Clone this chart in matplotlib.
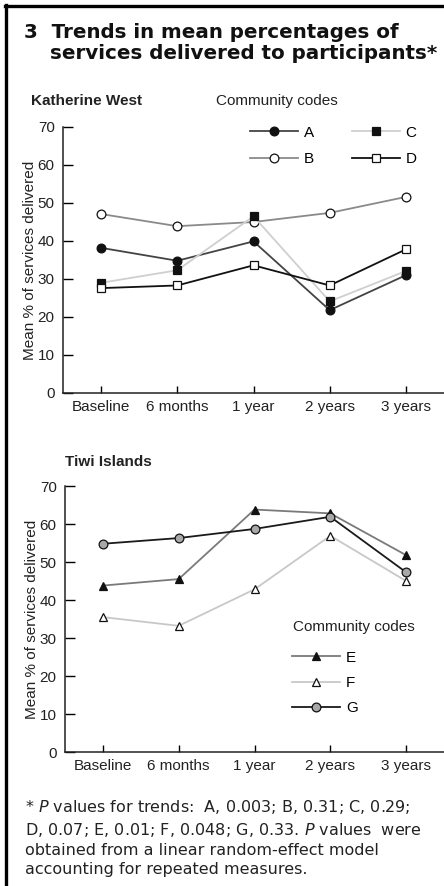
import matplotlib
matplotlib.use("Agg")
import matplotlib.pyplot as plt
from matplotlib.lines import Line2D

#### Data ####
timepoints = ["Baseline", "6 months", "1 year", "2 years", "3 years"]
yticks = [0, 10, 20, 30, 40, 50, 60, 70]

# Katherine West
kw_A = [38.2, 34.8, 39.9, 21.8, 31.0]
kw_B = [47.1, 43.9, 45.0, 47.4, 51.6]
kw_C = [29.0, 32.3, 46.5, 24.1, 32.1]
kw_D = [27.6, 28.3, 33.6, 28.3, 37.8]

# Tiwi Islands
tw_E = [43.8, 45.5, 63.8, 62.8, 51.8]
tw_F = [35.5, 33.2, 42.8, 56.9, 45.0]
tw_G = [54.8, 56.3, 58.7, 61.9, 47.3]

W, H = 444, 886
fig = plt.figure(figsize=(W / 100, H / 100), dpi=100)
fig.patch.set_facecolor("white")

lab_font = "Liberation Sans"
x = list(range(len(timepoints)))


def px(l, t, r, b):
    # pixel box -> figure fraction rect
    return [l / W, 1 - b / H, (r - l) / W, (b - t) / H]


def style_axes(ax):
    ax.set_xlim(-0.5, 4.5)
    ax.set_ylim(0, 70)
    ax.set_xticks(x)
    ax.set_xticklabels(timepoints, family=lab_font, fontsize=11, color="#222")
    ax.set_yticks(yticks)
    ax.set_yticklabels([str(v) for v in yticks], family=lab_font, fontsize=11, color="#222")
    ax.tick_params(axis="x", direction="in", length=5, width=1, pad=5)
    ax.tick_params(axis="y", direction="in", length=7, width=1, pad=6)
    for s in ["top", "right"]:
        ax.spines[s].set_visible(False)
    for s in ["left", "bottom"]:
        ax.spines[s].set_linewidth(1.1)
        ax.spines[s].set_color("#222")
    ax.set_ylabel("Mean % of services delivered", family=lab_font, fontsize=11,
                  color="#222")
    ax.yaxis.set_label_coords(-0.068, 0.5)
    ax.patch.set_alpha(0)


mk = dict(markersize=6.3, markeredgewidth=0.9, markeredgecolor="#111", linewidth=1.3)

#### Katherine West ####
ax1 = fig.add_axes(px(63, 127, 444, 393))
hA, = ax1.plot(x, kw_A, color="#444", marker="o", markerfacecolor="#111", label="A", **mk)
hB, = ax1.plot(x, kw_B, color="#8a8a8a", marker="o", markerfacecolor="white", label="B", **mk)
hC, = ax1.plot(x, kw_C, color="#cfcfcf", marker="s", markerfacecolor="#111", label="C", **mk)
hD, = ax1.plot(x, kw_D, color="#111", marker="s", markerfacecolor="white", label="D", **mk)
style_axes(ax1)
ax1.legend(handles=[hA, hB, hC, hD], ncol=2, frameon=False,
           prop={"family": lab_font, "size": 11},
           handlelength=3.1, handletextpad=0.4, columnspacing=2.5,
           labelspacing=0.8, loc="upper left",
           bbox_to_anchor=((250 - 63) / 381 - 0.035, (393 - 112) / 266))

#### Tiwi Islands ####
ax2 = fig.add_axes(px(65, 486, 444, 752))
hE, = ax2.plot(x, tw_E, color="#7a7a7a", marker="^", markerfacecolor="#111", label="E", **mk)
hF, = ax2.plot(x, tw_F, color="#c8c8c8", marker="^", markerfacecolor="white", label="F", **mk)
hG, = ax2.plot(x, tw_G, color="#1a1a1a", marker="o", markerfacecolor="#a8a8a8", label="G", **mk)
style_axes(ax2)
ax2.legend(handles=[hE, hF, hG], ncol=1, frameon=False,
           prop={"family": lab_font, "size": 11},
           handlelength=3.1, handletextpad=0.4, labelspacing=0.74,
           loc="upper left",
           bbox_to_anchor=((292 - 65) / 379 - 0.035, (752 - 637) / 266))

#### Titles and texts ####
fig.text(24 / W, 1 - 38 / H, "3  Trends in mean percentages of", family="DejaVu Sans",
         fontweight="bold", fontsize=14.3, color="#111", va="baseline", ha="left")
fig.text(50 / W, 1 - 59 / H, "services delivered to participants*", family="DejaVu Sans",
         fontweight="bold", fontsize=14.3, color="#111", va="baseline", ha="left")

fig.text(31 / W, 1 - 101 / H, "Katherine West", family=lab_font, fontweight="bold",
         fontsize=11, color="#222", va="center", ha="left")
fig.text(216 / W, 1 - 101 / H, "Community codes", family=lab_font,
         fontsize=11, color="#222", va="center", ha="left")
fig.text(65 / W, 1 - 462 / H, "Tiwi Islands", family=lab_font, fontweight="bold",
         fontsize=11, color="#222", va="center", ha="left")
fig.text(293 / W, 1 - 627 / H, "Community codes", family=lab_font,
         fontsize=11, color="#222", va="center", ha="left")

note = ("* $\\it{P}$ values for trends:  A, 0.003; B, 0.31; C, 0.29;\n"
        "D, 0.07; E, 0.01; F, 0.048; G, 0.33. $\\it{P}$ values  were\n"
        "obtained from a linear random-effect model\n"
        "accounting for repeated measures.")
fig.text(25 / W, 1 - 798 / H, note, family="DejaVu Sans", fontsize=11.5, color="#222",
         va="top", ha="left", linespacing=1.33)

#### Frame ####
fig.add_artist(Line2D([5 / W, 1], [1 - 6 / H, 1 - 6 / H], color="black", linewidth=2.4,
                      transform=fig.transFigure))
fig.add_artist(Line2D([6 / W, 6 / W], [0, 1 - 5 / H], color="black", linewidth=2.4,
                      transform=fig.transFigure))

fig.savefig("out.png", dpi=100)
